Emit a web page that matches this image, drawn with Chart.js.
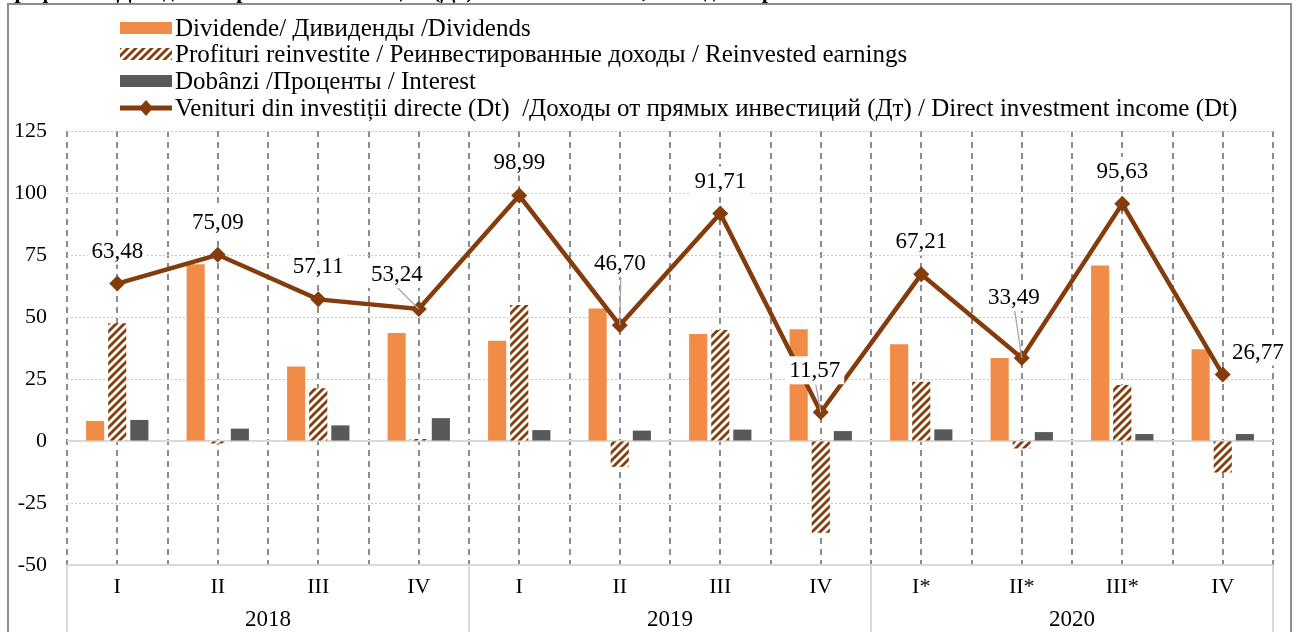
<!DOCTYPE html>
<html>
<head>
<meta charset="utf-8">
<script src="https://cdn.jsdelivr.net/npm/chart.js@4.4.1/dist/chart.umd.min.js"></script>
<style>
    html, body { margin: 0; padding: 0; background: #fff; overflow: hidden; }
    #wrap { width: 1296px; height: 632px; }
</style>
</head>
<body>
<div id="wrap"><canvas id="incomeChart" width="1296" height="632"></canvas></div>
<script>
// Данные
const quarters   = ["I", "II", "III", "IV", "I", "II", "III", "IV", "I*", "II*", "III*", "IV"];
const years      = ["2018", "2019", "2020"];
const dividends  = [8.1, 71.3, 30.0, 43.5, 40.4, 53.4, 43.1, 45.1, 39.0, 33.5, 70.8, 37.0];
const reinvested = [47.5, -1.0, 21.3, 0.8, 54.8, -10.4, 44.8, -37.0, 23.9, -3.0, 22.6, -12.7];
const interest   = [8.5, 5.0, 6.3, 9.2, 4.4, 4.2, 4.6, 4.0, 4.7, 3.6, 2.8, 2.8];
const income     = [63.48, 75.09, 57.11, 53.24, 98.99, 46.70, 91.71, 11.57, 67.21, 33.49, 95.63, 26.77];
const seriesNames = [
    "Dividende/ Дивиденды /Dividends",
    "Profituri reinvestite / Реинвестированные доходы / Reinvested earnings",
    "Dobânzi /Проценты / Interest",
    "Venituri din investiții directe (Dt)  /Доходы от прямых инвестиций (Дт) / Direct investment income (Dt)"
];
const titleText = "Графика 8. Доходы от прямых инвестиций (Дт) по компонентам, млн. долларов США";

// Смещения подписей (dx, dy) от точки и выноски
const labelOffsets = [[0, -33], [0, -33], [0, -33], [-22, -35], [0, -34], [0, -62], [0, -33], [-6, -42], [0, -33], [-8, -61], [0, -33], [35, -23]];
const leaderLines  = [false, false, false, true, false, true, false, true, false, true, false, false];

const FONT = "'Liberation Serif', 'Times New Roman', serif";
const ORANGE = "#F08C48";
const BROWN  = "#843C0C";
const GREY   = "#595959";

// Штриховка
function makeHatch() {
    const c = document.createElement("canvas");
    c.width = 8; c.height = 8;
    const g = c.getContext("2d");
    g.fillStyle = "#fff";
    g.fillRect(0, 0, 8, 8);
    g.strokeStyle = BROWN;
    g.lineWidth = 2.8;
    g.beginPath();
    g.moveTo(-2, 10); g.lineTo(10, -2);
    g.moveTo(-2, 2);  g.lineTo(2, -2);
    g.moveTo(6, 10);  g.lineTo(10, 6);
    g.stroke();
    return g.createPattern(c, "repeat");
}
const hatch = makeHatch();

const fmt = v => v.toFixed(2).replace(".", ",");

const framePlugin = {
    id: "frame",
    beforeDraw(chart) {
        const ctx = chart.ctx;
        ctx.save();
        ctx.fillStyle = "#fff";
        ctx.fillRect(0, 0, chart.width, chart.height);

        // Заголовок (обрезан сверху)
        ctx.fillStyle = "#000";
        ctx.font = "bold 22px " + FONT;
        ctx.textAlign = "left";
        ctx.textBaseline = "alphabetic";
        ctx.fillText(titleText, 2, -2);

        // Рамка
        ctx.strokeStyle = "#8c8c8c";
        ctx.lineWidth = 2;
        ctx.strokeRect(8, 4, 1283, 660);

        // Легенда
        const rows = [28, 54, 81, 108];
        ctx.font = "25px " + FONT;
        ctx.textBaseline = "middle";
        rows.forEach((y, i) => {
            if (i === 0) { ctx.fillStyle = ORANGE; ctx.fillRect(120, y - 6, 52, 12); }
            if (i === 1) { ctx.fillStyle = hatch; ctx.fillRect(120, y - 6, 52, 12); }
            if (i === 2) { ctx.fillStyle = GREY; ctx.fillRect(120, y - 6, 52, 12); }
            if (i === 3) {
                ctx.strokeStyle = BROWN;
                ctx.lineWidth = 5;
                ctx.beginPath(); ctx.moveTo(120, y); ctx.lineTo(172, y); ctx.stroke();
                ctx.fillStyle = BROWN;
                ctx.beginPath();
                ctx.moveTo(146, y - 8); ctx.lineTo(153, y); ctx.lineTo(146, y + 8); ctx.lineTo(139, y);
                ctx.closePath(); ctx.fill();
            }
            ctx.fillStyle = "#000";
            ctx.fillText(seriesNames[i], 175, y + 1);
        });
        ctx.restore();
    },
    beforeDatasetsDraw(chart) {
        const ctx = chart.ctx;
        const { left, right, bottom } = chart.chartArea;
        const x = chart.scales.x, y = chart.scales.y;
        const step = (right - left) / quarters.length;
        ctx.save();
        // Нулевая линия
        ctx.strokeStyle = "#d9d9d9";
        ctx.lineWidth = 2;
        ctx.beginPath();
        ctx.moveTo(left, y.getPixelForValue(0));
        ctx.lineTo(right, y.getPixelForValue(0));
        ctx.stroke();

        // Таблица подписей оси X
        ctx.beginPath();
        for (let k = 0; k <= quarters.length; k += 4) {
            const px = left + k * step;
            ctx.moveTo(px, bottom);
            ctx.lineTo(px, chart.height);
        }
        ctx.moveTo(left, bottom);
        ctx.lineTo(right, bottom);
        ctx.stroke();

        ctx.fillStyle = "#000";
        ctx.font = "23px " + FONT;
        ctx.textAlign = "center";
        ctx.textBaseline = "middle";
        years.forEach((yr, k) => {
            const px = (x.getPixelForValue(k * 4) + x.getPixelForValue(k * 4 + 3)) / 2;
            ctx.fillText(yr, px, 620);
        });
        ctx.restore();
    },
    afterDatasetsDraw(chart) {
        const ctx = chart.ctx;
        const meta = chart.getDatasetMeta(3);
        ctx.save();
        ctx.font = "23px " + FONT;
        ctx.textAlign = "center";
        ctx.textBaseline = "middle";
        meta.data.forEach((pt, i) => {
            const [dx, dy] = labelOffsets[i];
            const lx = pt.x + dx, ly = pt.y + dy;
            const text = fmt(income[i]);
            const w = ctx.measureText(text).width + 8;
            if (leaderLines[i]) {
                ctx.strokeStyle = "#a6a6a6";
                ctx.lineWidth = 1.3;
                ctx.beginPath();
                ctx.moveTo(lx + 1, ly + 14);
                ctx.lineTo(pt.x, pt.y);
                ctx.stroke();
            }
            ctx.fillStyle = "#fff";
            ctx.fillRect(lx - w / 2, ly - 14, w, 28);
            ctx.fillStyle = "#000";
            ctx.fillText(text, lx, ly + 1);
        });
        ctx.restore();
    }
};

const ctx = document.getElementById("incomeChart").getContext("2d");
new Chart(ctx, {
    type: "bar",
    data: {
        labels: quarters,
        datasets: [
            { label: seriesNames[0], data: dividends,  backgroundColor: ORANGE, order: 1 },
            { label: seriesNames[1], data: reinvested, backgroundColor: hatch,  order: 1 },
            { label: seriesNames[2], data: interest,   backgroundColor: GREY,   order: 1 },
            {
                label: seriesNames[3], data: income, type: "line", order: 0,
                borderColor: BROWN, borderWidth: 4.5, tension: 0,
                pointStyle: "rectRot", pointRadius: 8, pointBackgroundColor: BROWN, pointBorderWidth: 0
            }
        ]
    },
    options: {
        responsive: false,
        animation: false,
        categoryPercentage: 0.66,
        barPercentage: 0.82,
        layout: { padding: { top: 131, right: 23, left: 0, bottom: 0 } },
        plugins: {
            legend: { display: false },
            tooltip: { enabled: false }
        },
        scales: {
            x: {
                offset: true,
                grid: { offset: true, color: "#8c8c8c", lineWidth: 2, drawTicks: false },
                border: { display: false, dash: [6, 5] },
                ticks: { color: "#000", font: { family: FONT, size: 22 }, padding: 9, maxRotation: 0, autoSkip: false },
                afterFit: s => { s.height = 67; }
            },
            x2: {
                type: "category",
                labels: quarters,
                position: "bottom",
                offset: true,
                grid: { offset: false, color: "#8c8c8c", lineWidth: 2, drawTicks: false },
                border: { display: false, dash: [6, 5] },
                ticks: { display: false },
                afterFit: s => { s.height = 0; }
            },
            y: {
                min: -50, max: 125,
                ticks: { stepSize: 25, color: "#000", font: { family: FONT, size: 22 }, padding: 20 },
                grid: { color: "#c8c8c8", lineWidth: 1, drawTicks: false },
                border: { display: false, dash: [2, 2] },
                afterFit: s => { s.width = 67; }
            }
        }
    },
    plugins: [framePlugin]
});
</script>
</body>
</html>
